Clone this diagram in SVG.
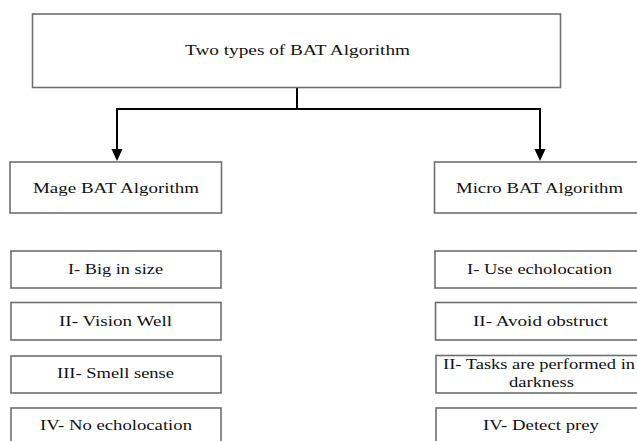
<svg xmlns="http://www.w3.org/2000/svg" width="637" height="441" viewBox="0 0 637 441">
<style>
.box{fill:#fff;stroke:#6e6e6e;stroke-width:1.6}
.t{font-family:"Liberation Serif","Times New Roman",serif;font-size:15.5px;fill:#111}
.c{fill:none;stroke:#000;stroke-width:2}
</style>
<rect width="637" height="441" fill="#fff"/>
<g id="connectors">
<path class="c" d="M297,88 V109 H117"/>
<path class="c" d="M297,109 H540"/>
<line class="c" x1="117" y1="108" x2="117" y2="150"/>
<line class="c" x1="540" y1="108" x2="540" y2="150"/>
<path d="M111.5,149 L122.5,149 L117,161 Z" fill="#000"/>
<path d="M534.5,149 L545.5,149 L540,161 Z" fill="#000"/>
</g>
<g id="root">
<rect class="box" x="32.5" y="14" width="528" height="73.5"/>
<text class="t" x="185" y="55" textLength="225" lengthAdjust="spacingAndGlyphs">Two types of BAT Algorithm</text>
</g>
<g id="mage">
<rect class="box" x="10" y="162" width="211.5" height="51"/>
<text class="t" x="33" y="193" textLength="166" lengthAdjust="spacingAndGlyphs">Mage BAT Algorithm</text>
</g>
<g id="micro">
<rect class="box" x="434.5" y="162" width="215" height="51"/>
<text class="t" x="456" y="193" textLength="167" lengthAdjust="spacingAndGlyphs">Micro BAT Algorithm</text>
</g>
<g id="m1">
<rect class="box" x="11" y="251" width="210" height="37"/>
<text class="t" x="68" y="274" textLength="95" lengthAdjust="spacingAndGlyphs">I- Big in size</text>
</g>
<g id="m2">
<rect class="box" x="11" y="302.5" width="210" height="37.5"/>
<text class="t" x="59" y="326" textLength="113" lengthAdjust="spacingAndGlyphs">II- Vision Well</text>
</g>
<g id="m3">
<rect class="box" x="11" y="356" width="210" height="37"/>
<text class="t" x="57" y="378" textLength="117" lengthAdjust="spacingAndGlyphs">III- Smell sense</text>
</g>
<g id="m4">
<rect class="box" x="11" y="408" width="210" height="40"/>
<text class="t" x="40" y="430" textLength="152" lengthAdjust="spacingAndGlyphs">IV- No echolocation</text>
</g>
<g id="u1">
<rect class="box" x="435" y="251" width="215" height="37"/>
<text class="t" x="467" y="274" textLength="145" lengthAdjust="spacingAndGlyphs">I- Use echolocation</text>
</g>
<g id="u2">
<rect class="box" x="435.5" y="302.5" width="215" height="37.5"/>
<text class="t" x="473" y="326" textLength="135" lengthAdjust="spacingAndGlyphs">II- Avoid obstruct</text>
</g>
<g id="u3">
<rect class="box" x="436" y="355.5" width="215" height="37.5"/>
<text class="t" x="443" y="369" textLength="192" lengthAdjust="spacingAndGlyphs">II- Tasks are performed in</text>
<text class="t" x="509" y="387" textLength="65" lengthAdjust="spacingAndGlyphs">darkness</text>
</g>
<g id="u4">
<rect class="box" x="436" y="408" width="215" height="40"/>
<text class="t" x="483" y="430" textLength="116" lengthAdjust="spacingAndGlyphs">IV- Detect prey</text>
</g>
</svg>
